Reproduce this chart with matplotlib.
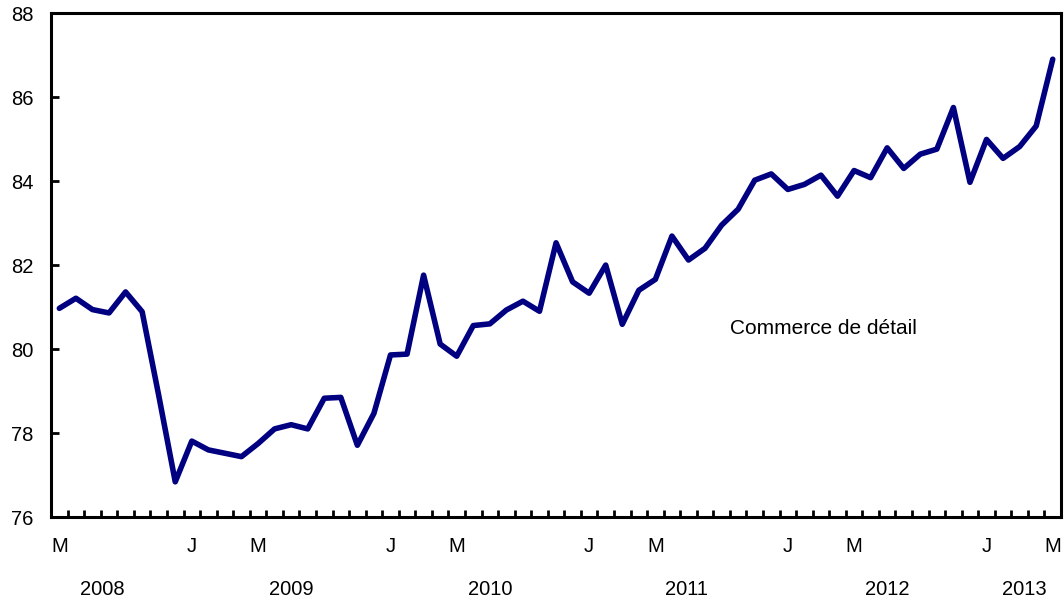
import matplotlib
matplotlib.use("Agg")
import matplotlib.pyplot as plt
import matplotlib.transforms as mtransforms

plt.rcParams['font.family'] = ['Liberation Sans', 'DejaVu Sans']

# monthly index, May 2008 to May 2013
values = [
    80.97, 81.21, 80.94, 80.86, 81.36, 80.89, 78.90, 76.84,
    77.81, 77.60, 77.52, 77.44, 77.75, 78.10, 78.20, 78.10,
    78.83, 78.85, 77.71, 78.47, 79.86, 79.88, 81.76, 80.12,
    79.83, 80.56, 80.60, 80.93, 81.14, 80.90, 82.53, 81.60,
    81.33, 82.00, 80.59, 81.40, 81.66, 82.69, 82.12, 82.40,
    82.95, 83.33, 84.02, 84.17, 83.80, 83.92, 84.14, 83.64,
    84.25, 84.08, 84.79, 84.30, 84.64, 84.76, 85.75, 83.97,
    84.99, 84.54, 84.82, 85.31, 86.90,
]
month_ticks = [0, 8, 12, 20, 24, 32, 36, 44, 48, 56, 60]
month_labels = ['M', 'J', 'M', 'J', 'M', 'J', 'M', 'J', 'M', 'J', 'M']
years = ['2008', '2009', '2010', '2011', '2012', '2013']
year_pos = [2.6, 14.0, 26.0, 37.9, 50.0, 58.3]
series_label = 'Commerce de détail'

fig = plt.figure(figsize=(10.64, 6.02), dpi=100)
ax = fig.add_axes([0.048, 0.141, 0.9492, 0.8374])

x = list(range(len(values)))
ax.plot(x, values, color='#000080', lw=4.0, solid_joinstyle='round',
        solid_capstyle='round')

ax.set_xlim(-0.5, len(values) - 0.5)
ax.set_ylim(76, 88)
ax.set_yticks([76, 78, 80, 82, 84, 86, 88])

ax.set_xticks(month_ticks)
ax.set_xticklabels(month_labels)
ax.set_xticks([k + 0.5 for k in range(len(values) - 1)], minor=True)
ax.tick_params(axis='x', which='major', length=0, pad=14, labelsize=14.5)
ax.tick_params(axis='x', which='minor', direction='in', length=5, width=2)
ax.tick_params(axis='y', direction='in', length=6, width=2, pad=12.5, labelsize=14.5)

for s in ax.spines.values():
    s.set_linewidth(2.2)

trans = mtransforms.blended_transform_factory(ax.transData, ax.transAxes)
for yr, p in zip(years, year_pos):
    ax.text(p, -0.144, yr, transform=trans, ha='center', va='center', fontsize=14.5)

ax.text(40.5, 80.5, series_label, ha='left', va='center', fontsize=15)

fig.savefig('out.png', dpi=100)
